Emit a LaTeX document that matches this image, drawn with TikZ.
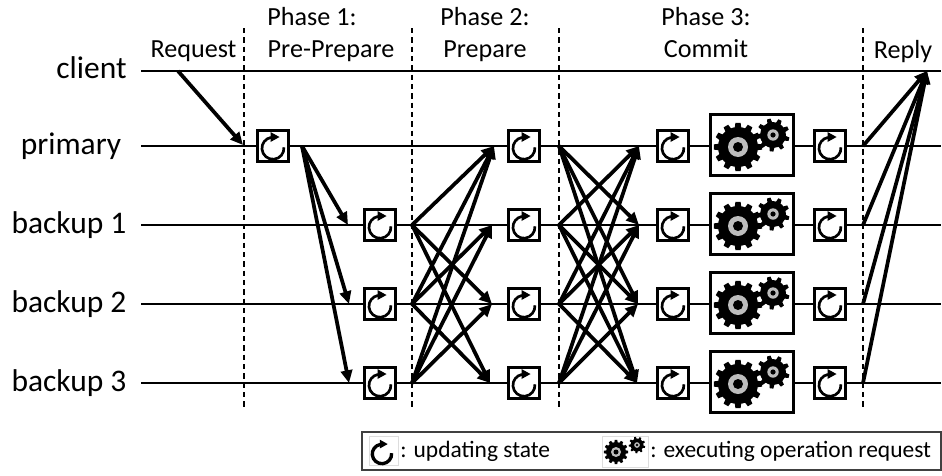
\documentclass[tikz,border=0pt]{standalone}
\usepackage{fontspec}
\setmainfont{Carlito}
\usetikzlibrary{arrows.meta}
\definecolor{ringgray}{HTML}{BDBDBD}
\definecolor{faint}{HTML}{DDDDDD}
\definecolor{framegray}{HTML}{404040}
\tikzset{
  x=0.75pt,y=-0.75pt,
  lane/.style={line width=0.9pt,black},
  phase/.style={line width=0.85pt,dash pattern=on 4pt off 3pt,black},
  msg/.style={line width=2.8pt,black,-{Triangle[length=9.5pt,width=8.5pt]}},
  ubox/.style={draw=black,line width=2.2pt,fill=white,minimum size=23pt,inner sep=0pt,outer sep=0pt},
  gbox/.style={draw=black,line width=2.4pt,fill=white,minimum width=62pt,minimum height=46pt,inner sep=0pt,outer sep=0pt},
  lbl/.style={font=\fontsize{23.6pt}{26pt}\selectfont,inner sep=0pt,anchor=base},
  hdr/.style={font=\fontsize{19.6pt}{22pt}\selectfont,inner sep=0pt,anchor=base},
  leg/.style={font=\fontsize{17.6pt}{20pt}\selectfont,inner sep=0pt,anchor=base west},
  refw/.store in=\refwidth, refw=2pt,
  ref/.pic={
    \draw[line width=\refwidth,black] (10.9,1.3) arc[start angle=-5,end angle=260,radius=11];
    \fill[black] (-2.5,-14) -- (6.5,-9) -- (-2.5,-4) -- cycle;
  },
  gear/.pic={
    \fill[black] (0,0) circle[radius=20];
    \foreach \a in {0,30,...,330}{
      \fill[black,rotate=\a] (-3.4,-18) -- (-2.6,-24.2) -- (2.6,-24.2) -- (3.4,-18) -- cycle;
    }
    \fill[ringgray] (0,0) circle[radius=10];
    \fill[black] (0,0) circle[radius=5];
  },
  sgear/.pic={
    \fill[black] (0,0) circle[radius=13];
    \foreach \a in {15,55,...,370}{
      \fill[black,rotate=\a] (-2.6,-11.5) -- (-1.8,-16.5) -- (1.8,-16.5) -- (2.6,-11.5) -- cycle;
    }
    \fill[ringgray] (0,0) circle[radius=5.7];
    \fill[black] (0,0) circle[radius=2.6];
  },
}
\begin{document}
\begin{tikzpicture}
\useasboundingbox (0,0) rectangle (942,475);
% lanes
\foreach \n/\y in {c/71,p/146,a/225,b/304,d/383}{
  \coordinate (L\n) at (141,\y);
  \coordinate (R\n) at (941,\y);
  \draw[lane] (L\n) -- (R\n);
}
% phase dividers
\foreach \n/\x in {1/244,2/412,3/559,4/863}{
  \coordinate (T\n) at (\x,28);
  \coordinate (U\n) at (\x,408);
  \draw[phase] (T\n) -- (U\n);
}
% labels
\node[lbl] at (91.5,78) {client};
\node[lbl] at (71,154) {primary};
\node[lbl] at (69,233) {backup 1};
\node[lbl] at (69,312) {backup 2};
\node[lbl] at (69,391) {backup 3};
\node[hdr] at (193.5,57) {Request};
\node[hdr] at (312,25) {Phase 1:};
\node[hdr] at (331,57) {Pre-Prepare};
\node[hdr] at (485,25) {Phase 2:};
\node[hdr] at (485,57) {Prepare};
\node[hdr] at (706,25) {Phase 3:};
\node[hdr] at (706,57) {Commit};
\node[hdr] at (903,58) {Reply};
% state boxes
\node[ubox] (s0) at (273,146) {};
\pic at (273,146) {ref};
\foreach \n/\y in {a/225,b/304,d/383}{
  \node[ubox] (s1\n) at (380,\y) {};
  \pic at (380,\y) {ref};
}
\foreach \n/\y in {p/146,a/225,b/304,d/383}{
  \node[ubox] (s2\n) at (524,\y) {};
  \pic at (524,\y) {ref};
  \node[ubox] (s3\n) at (673,\y) {};
  \pic at (673,\y) {ref};
  \node[gbox] (g\n) at (752,\y-1) {};
  \pic at (738,\y+1) {gear};
  \pic at (773,\y-11) {sgear};
  \node[ubox] (s4\n) at (830,\y) {};
  \pic at (830,\y) {ref};
}
% message end points
\coordinate (cS) at (178,71);
\coordinate (pE) at (243,145);
\coordinate (ppS) at (302,146);
\coordinate (ppa) at (348,225);
\coordinate (ppb) at (349,304);
\coordinate (ppd) at (349,383);
\foreach \n/\y/\bx/\dx in {p/146/494/639,a/225/492/639,b/304/492/638,d/383/490/637}{
  \coordinate (A\n) at (412,\y);
  \coordinate (B\n) at (\bx,\y);
  \coordinate (C\n) at (559,\y);
  \coordinate (D\n) at (\dx,\y);
  \coordinate (E\n) at (863,\y);
}
\coordinate (rE) at (927,71);
% messages
\draw[msg] (cS) -- (pE);
\draw[msg] (ppS) -- (ppa);
\draw[msg] (ppS) -- (ppb);
\draw[msg] (ppS) -- (ppd);
\foreach \f/\t in {a/p,a/b,a/d,b/p,b/a,b/d,d/p,d/a,d/b}{
  \draw[msg] (A\f) -- (B\t);
}
\foreach \f/\t in {p/a,p/b,p/d,a/p,a/b,a/d,b/p,b/a,b/d,d/p,d/a,d/b}{
  \draw[msg] (C\f) -- (D\t);
}
\foreach \f in {p,a,b,d}{
  \draw[msg] (E\f) -- (rE);
}
% legend
\node[draw=framegray,line width=1.2pt,minimum width=434pt,minimum height=28.5pt,inner sep=0pt] (legend) at (651.5,451) {};
\node[draw=faint,line width=0.5pt,minimum width=21.5pt,minimum height=22pt,inner sep=0pt] (legU) at (383.5,450.5) {};
\pic[scale=0.88,refw=2.5pt] at (382,452) {ref};
\node[leg] at (400,457) {: updating state};
\node[draw=faint,line width=0.5pt,minimum width=34.5pt,minimum height=23.5pt,inner sep=0pt] (legG) at (625,452) {};
\pic[scale=0.5] at (616,452) {gear};
\pic[scale=0.5] at (637,445) {sgear};
\node[leg] at (650,457) {: executing operation request};
\end{tikzpicture}
\end{document}
